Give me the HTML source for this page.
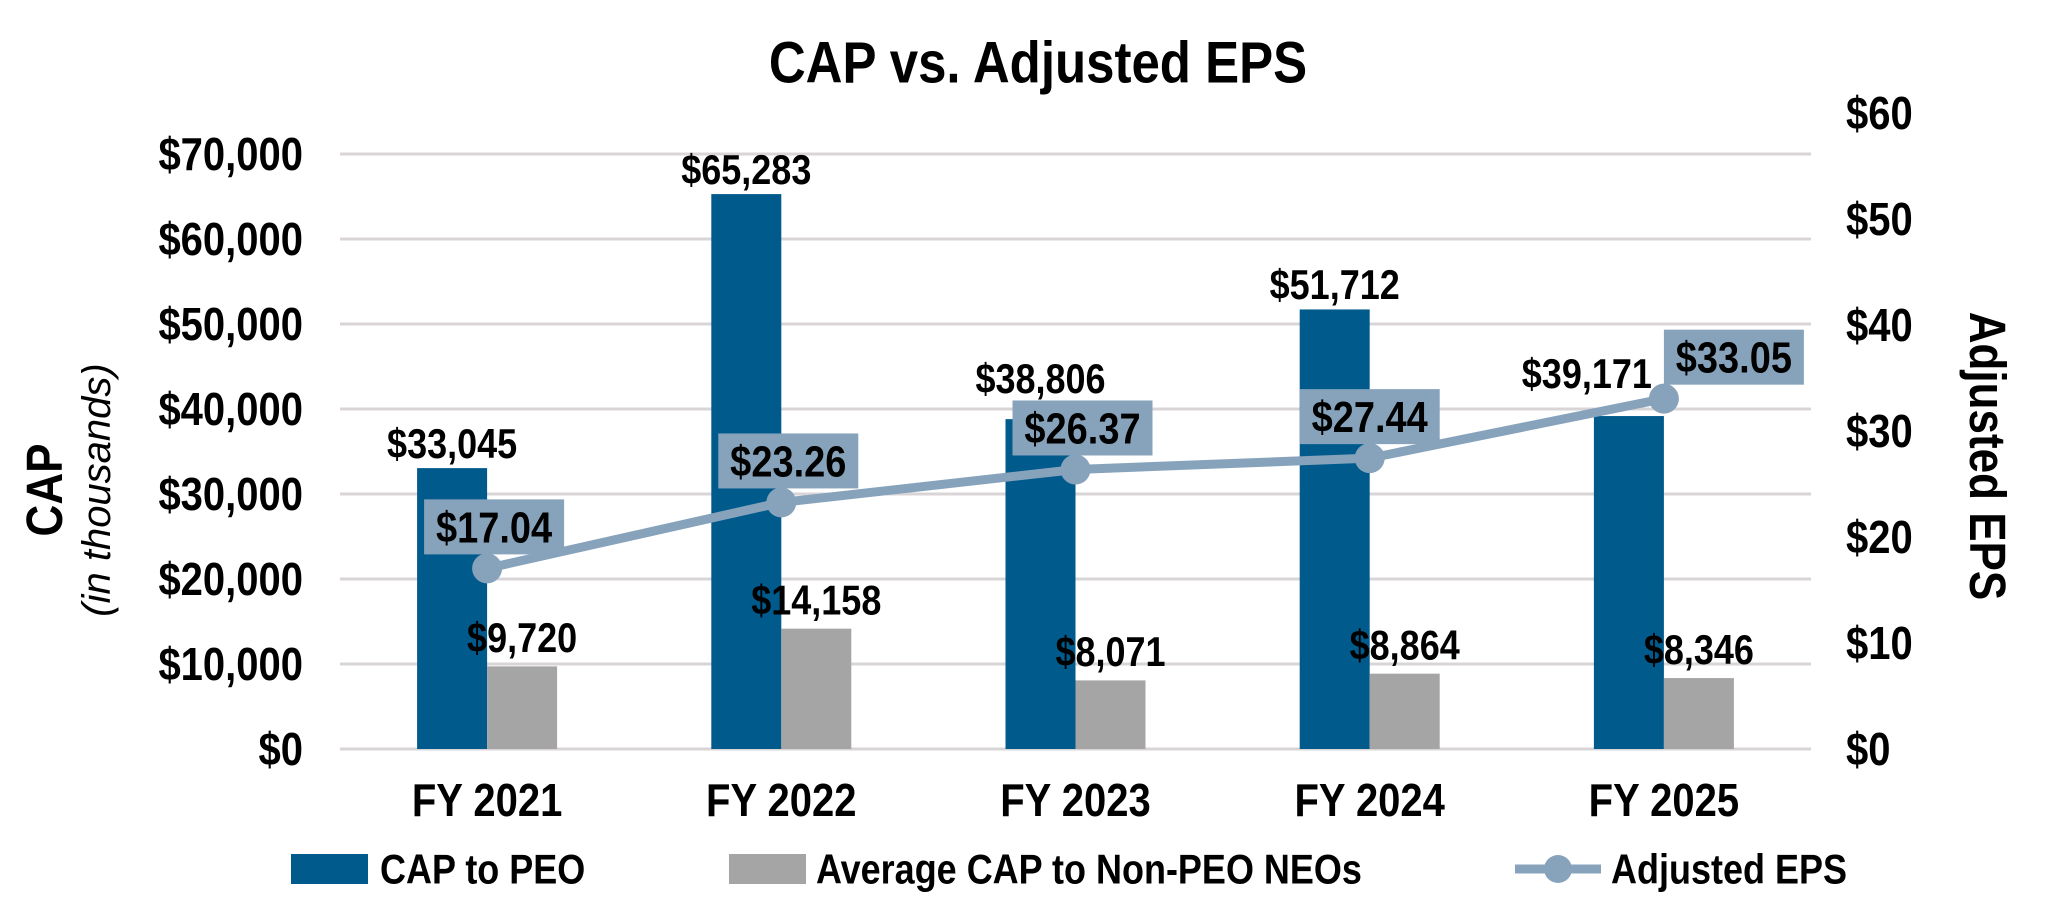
<!DOCTYPE html>
<html><head><meta charset="utf-8"><style>
html,body{margin:0;padding:0;background:#fff;}
svg{display:block;font-family:"Liberation Sans",Arial,sans-serif;}
svg text:not([transform]){transform-box:fill-box;transform-origin:center;transform:scaleY(1.15);}
</style></head><body>
<svg id="chart" width="2071" height="923" viewBox="0 0 2071 923">
<text x="1038" y="80" font-size="51" font-weight="bold" text-anchor="middle">CAP vs. Adjusted EPS</text>
<g id="grid"></g><g id="bars"></g><g id="line"></g><g id="labels"></g>
<text transform="translate(62,490) rotate(-90) scale(1,1.15)" font-size="44" font-weight="bold" text-anchor="middle">CAP</text>
<text transform="translate(110,490) rotate(-90)" font-size="40" font-style="italic" text-anchor="middle">(in thousands)</text>
<text transform="translate(1970,456) rotate(90) scale(1,1.15)" font-size="44" font-weight="bold" text-anchor="middle">Adjusted EPS</text>
<g>
<rect x="291" y="854" width="77" height="30" fill="#005a8c"/>
<text x="380" y="882" font-size="36" font-weight="bold">CAP to PEO</text>
<rect x="729" y="854" width="77" height="30" fill="#a5a5a5"/>
<text x="816" y="882" font-size="36" font-weight="bold">Average CAP to Non-PEO NEOs</text>
<line x1="1515" y1="869" x2="1601" y2="869" stroke="#87a3bc" stroke-width="9"/>
<circle cx="1558" cy="869" r="14" fill="#87a3bc"/>
<text x="1611" y="882" font-size="36" font-weight="bold">Adjusted EPS</text>
</g>
</svg>
<script>
const categories=["FY 2021","FY 2022","FY 2023","FY 2024","FY 2025"];
const capPeo=[33045,65283,38806,51712,39171];
const capNeo=[9720,14158,8071,8864,8346];
const eps=[17.04,23.26,26.37,27.44,33.05];
const leftTicks=[0,10000,20000,30000,40000,50000,60000,70000];
const rightTicks=[0,10,20,30,40,50,60];
const NS="http://www.w3.org/2000/svg";
const X0=340,X1=1811,Y0=749;
const yL=v=>Y0-v*(595/70000);
const yR=v=>Y0-v*(636/60);
const band=(X1-X0)/categories.length;
const xC=i=>X0+band*(i+0.5);
const BW=70;
function mk(tag,attrs,parent,txt){const e=document.createElementNS(NS,tag);for(const k in attrs)e.setAttribute(k,attrs[k]);if(txt!==undefined)e.textContent=txt;document.getElementById(parent).appendChild(e);return e;}
const fmt=v=>"$"+v.toLocaleString("en-US");
leftTicks.forEach(t=>{
  let g=mk("line",{x1:X0,x2:X1,y1:yL(t),y2:yL(t),stroke:"#d9d5d7","stroke-width":3},"grid");
  
  
  let l=mk("text",{x:303,y:yL(t)+14,"font-size":40,"font-weight":"bold","text-anchor":"end"},"grid",fmt(t));
  
  
});
rightTicks.forEach(t=>{
  let l=mk("text",{x:1846,y:yR(t)+14,"font-size":40,"font-weight":"bold"},"grid","$"+t);
  
  
});
categories.forEach((c,i)=>{
  let l=mk("text",{x:xC(i),y:814,"font-size":40,"font-weight":"bold","text-anchor":"middle"},"grid",c);
  
  
  let b1=mk("rect",{x:xC(i)-BW,y:yL(capPeo[i]),width:BW,height:Y0-yL(capPeo[i]),fill:"#005a8c"},"bars");
  
  
  let b2=mk("rect",{x:xC(i),y:yL(capNeo[i]),width:BW,height:Y0-yL(capNeo[i]),fill:"#a5a5a5"},"bars");
  
  
  let px=xC(i)-BW/2, py=yL(capPeo[i])-12, anc="middle";
  if(i===2){py=yL(capPeo[i])-28;}
  if(i===4){px=xC(i)-12;py=yL(capPeo[i])-30;anc="end";}
  let t1=mk("text",{x:px,y:py,"font-size":36,"font-weight":"bold","text-anchor":anc},"labels",fmt(capPeo[i]));
  
  
  let t2=mk("text",{x:xC(i)+BW/2,y:yL(capNeo[i])-16,"font-size":36,"font-weight":"bold","text-anchor":"middle"},"labels",fmt(capNeo[i]));
  
  
});
let pts=eps.map((v,i)=>xC(i)+","+yR(v)).join(" ");
let pl=mk("polyline",{points:pts,fill:"none",stroke:"#87a3bc","stroke-width":9,"stroke-linejoin":"round"},"line");


eps.forEach((v,i)=>{
  let c=mk("circle",{cx:xC(i),cy:yR(v),r:15,fill:"#87a3bc"},"line");
  
  
  let bx=(i===eps.length-1)?xC(i):xC(i)-70+(i<3?7:0);
  let by=yR(v)-14-55;
  let r=mk("rect",{x:bx,y:by,width:140,height:55,fill:"#87a3bc"},"labels");
  
  
  let t=mk("text",{x:bx+70,y:by+41,"font-size":38,"font-weight":"bold","text-anchor":"middle"},"labels","$"+v.toFixed(2));
  
  
});
</script>
</body></html>
